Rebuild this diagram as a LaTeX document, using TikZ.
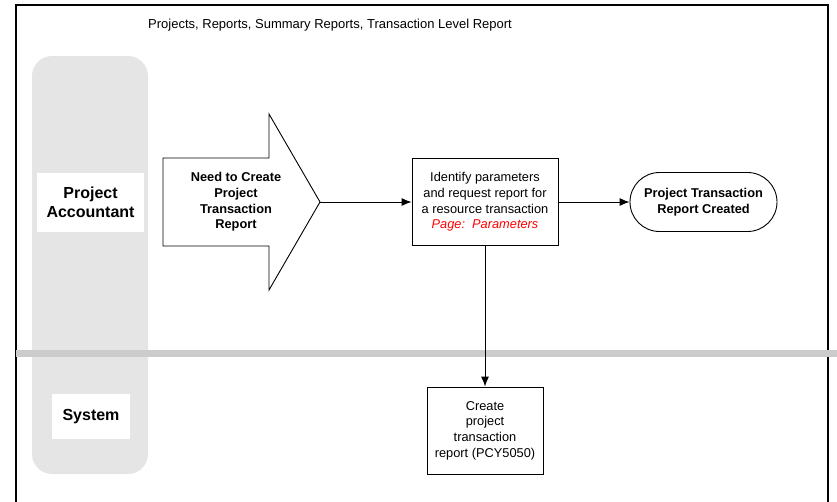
\documentclass[tikz,border=0pt]{standalone}
\usepackage{fontspec}
\setmainfont{Liberation Sans}
\usetikzlibrary{arrows.meta, shapes.misc}

\tikzset{
	taskbox/.style = {draw, line width = 0.9pt, fill = white, align = center, inner sep = 0pt, font = \fontsize{12.8}{15.7}\selectfont},
	lanebox/.style = {fill = white, align = center, inner sep = 0pt, font = \fontsize{16}{18.7}\selectfont\bfseries},
	endbox/.style = {draw, rounded rectangle, line width = 0.9pt, fill = white, align = center, inner sep = 0pt, font = \fontsize{12.8}{15.7}\selectfont\bfseries}
}

\begin{document}
\begin{tikzpicture}[> = {Latex[length = 10pt, width = 8pt]}, x = 1pt, y = -1pt]

	\clip (0, 0) rectangle (837, 501);

	% Frame and title

	\draw [line width = 1.3pt] (16, 5) rectangle (828, 520);

	\node [anchor = west, inner sep = 0pt, font = \fontsize{13}{15}\selectfont] (title) at (148, 25) {Projects, Reports, Summary Reports, Transaction Level Report};

	% Swim lanes

	\fill [black!10, rounded corners = 20pt] (32, 56) rectangle (148, 474);
	\fill [black!20] (16, 350) rectangle (837, 357);

	\node [lanebox, minimum width = 107pt, minimum height = 59pt] (accountant) at (90.5, 202.5) {Project\\Accountant};
	\node [lanebox, minimum width = 78pt, minimum height = 45pt] (system) at (91, 416.5) {System};

	% Trigger arrow

	\draw [line width = 0.9pt, fill = white] (163, 158) -- (269, 158) -- (269, 114) -- (320, 202) -- (269, 290) -- (269, 246) -- (163, 246) -- cycle;
	\node [align = center, font = \fontsize{12.8}{15.7}\selectfont\bfseries] (need) at (236, 202) {Need to Create\\Project\\Transaction\\Report};
	\coordinate (needtip) at (320, 202);

	% Steps

	\node [taskbox, minimum width = 146pt, minimum height = 87pt] (identify) at (485, 202) {Identify parameters\\and request report for\\a resource transaction\\\textcolor{red}{\itshape Page:\ \ Parameters}};
	\node [endbox, minimum width = 147pt, minimum height = 59pt] (created) at (703.5, 202) {Project Transaction\\Report Created};
	\node [taskbox, minimum width = 116pt, minimum height = 87pt] (create) at (485, 430.5) {Create\\project\\transaction\\report (PCY5050)};

	% Flow

	\begin{scope}[->, line width = 0.9pt]

		\draw (needtip) -- (identify);
		\draw (identify) -- (created);
		\draw (identify) -- (create);

	\end{scope}

\end{tikzpicture}
\end{document}
